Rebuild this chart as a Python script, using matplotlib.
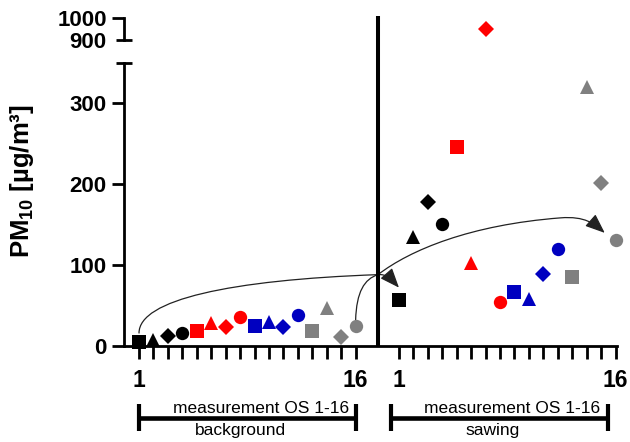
import matplotlib
matplotlib.use('Agg')
import matplotlib.pyplot as plt
import matplotlib.transforms as mtransforms
from matplotlib.path import Path
from matplotlib.patches import FancyArrowPatch
from matplotlib.lines import Line2D
import numpy as np

plt.rcParams['font.family'] = ['Liberation Sans', 'DejaVu Sans']
plt.rcParams['mathtext.fontset'] = 'custom'
plt.rcParams['mathtext.bf'] = 'Liberation Sans:bold'
plt.rcParams['mathtext.rm'] = 'Liberation Sans'

# ---------------- data ----------------
measurements = np.arange(1, 17)
background = [5, 8, 12, 16, 18, 28, 24, 36, 25, 29, 24, 38, 19, 47, 11, 25]
sawing = [57, 134, 177, 151, 246, 102, 950, 54, 67, 58, 89, 120, 85, 319, 201, 131]
colors = ['#000000'] * 4 + ['#FF0000'] * 4 + ['#0000C0'] * 4 + ['#808080'] * 4
markers = ['s', '^', 'D', 'o'] * 4
x_tick_labels = ['1', '16']
y_ticks_low = [0, 100, 200, 300]
y_ticks_high = [1000]
y_ticks_high_minor = [900]
group_labels = ['background', 'sawing']
bracket_label = 'measurement OS 1-16'
y_label = r'$\mathbf{PM_{10}}$ [µg/m³]'

# ---------------- layout ----------------
W, H = 630, 442
fig = plt.figure(figsize=(W / 100, H / 100), dpi=100)


def fx(px):
    return px / W


def fy(py):
    return 1 - py / H


offset = 18          # x offset of the second (sawing) block
sep_x = 17.55        # separator line position
xlim = (-0.04, 34.1)
ylim_low = (0, 349)
ylim_high = (900, 1000)

ax = fig.add_axes([fx(124), fy(346), fx(617) - fx(124), fy(63) - fy(346)])
axt = fig.add_axes([fx(124), fy(40), fx(617) - fx(124), fy(18) - fy(40)])

spine_lw = 2.0
for a in (ax, axt):
    a.set_xlim(*xlim)
    a.spines['top'].set_visible(False)
    a.spines['right'].set_visible(False)
    a.spines['left'].set_linewidth(spine_lw)
    a.spines['bottom'].set_linewidth(spine_lw)
    a.set_facecolor('none')
axt.spines['bottom'].set_visible(False)

ax.set_ylim(*ylim_low)
axt.set_ylim(*ylim_high)

tick_font = dict(fontsize=16, fontweight='bold')

# y ticks
ax.set_yticks(y_ticks_low)
ax.set_yticklabels([str(v) for v in y_ticks_low], **tick_font)
ax.set_yticks([ylim_low[1]], minor=True)
ax.set_yticklabels([''], minor=True)
ax.tick_params(axis='y', which='major', direction='out', length=9, width=spine_lw, pad=3.4)
ax.tick_params(axis='y', which='minor', direction='inout', length=11.5, width=spine_lw)

axt.set_yticks(y_ticks_high)
axt.set_yticklabels([str(v) for v in y_ticks_high], **tick_font)
axt.set_yticks(y_ticks_high_minor, minor=True)
axt.set_yticklabels([str(v) for v in y_ticks_high_minor], minor=True, **tick_font)
axt.tick_params(axis='y', which='major', direction='out', length=9, width=spine_lw, pad=3.4)
axt.tick_params(axis='y', which='minor', direction='inout', length=11.5, width=spine_lw, pad=7.1)
axt.set_xticks([])

# x ticks
xpos_bg = measurements
xpos_saw = measurements + offset
xt = list(xpos_bg) + list(xpos_saw)
xl = []
for block in range(2):
    for i, m in enumerate(measurements):
        if i == 0:
            xl.append(x_tick_labels[0])
        elif i == len(measurements) - 1:
            xl.append(x_tick_labels[1])
        else:
            xl.append('')
ax.set_xticks(xt)
ax.set_xticklabels(xl, fontsize=16.5, fontweight='bold')
ax.tick_params(axis='x', direction='out', length=9.4, width=spine_lw, pad=7.5)

# ---------------- points ----------------
ms_map = {'s': 9.5, '^': 9.8, 'D': 8.2, 'o': 9.6}
for i in range(len(measurements)):
    mk = markers[i]
    ax.plot(xpos_bg[i], background[i], marker=mk, color=colors[i], ms=ms_map[mk],
            mew=0, linestyle='none', clip_on=False, zorder=5)
    target = ax if sawing[i] <= ylim_low[1] else axt
    target.plot(xpos_saw[i], sawing[i], marker=mk, color=colors[i], ms=ms_map[mk],
                mew=0, linestyle='none', clip_on=False, zorder=5)

# ---------------- curved arrows ----------------
junction_y = 88
arrow_kw = dict(arrowstyle='-|>,head_length=0.55,head_width=0.22', mutation_scale=22,
                color='#222222', lw=0.9, zorder=4, clip_on=False)

# arrow: measurement 1 background -> measurement 1 sawing
xa0, ya0 = xpos_bg[0], background[0] + 11
xa1, ya1 = xpos_saw[0], sawing[0] + 15
verts_a = [(xa0, ya0), (xa0, 57), (7.3, 81.5), (sep_x, junction_y),
           (18.12, 89), (18.47, 82.7), (xa1, ya1)]
codes_a = [Path.MOVETO] + [Path.CURVE4] * 6
ax.add_patch(FancyArrowPatch(path=Path(verts_a, codes_a), **arrow_kw))

# arrow: measurement 16 background -> measurement 16 sawing
xb0, yb0 = xpos_bg[-1], background[-1] + 7
xb1, yb1 = xpos_saw[-1] - 0.75, sawing[-1] + 8.5
verts_b = [(xb0, yb0), (xb0 + 0.06, 66.7), (16.6, 82.7), (sep_x, junction_y),
           (19.78, 118.5), (23.94, 149.4), (30.18, 158),
           (31.9, 160.5), (32.55, 150.5), (xb1, yb1)]
codes_b = [Path.MOVETO] + [Path.CURVE4] * 9
ax.add_patch(FancyArrowPatch(path=Path(verts_b, codes_b), **arrow_kw))

# ---------------- separator line ----------------
blend = mtransforms.blended_transform_factory(ax.transData, fig.transFigure)
fig.add_artist(Line2D([sep_x, sep_x], [fy(347), fy(16)], transform=blend,
                      color='black', lw=2.9, solid_capstyle='butt', zorder=10))

# ---------------- brackets ----------------
bar_y, cap_top, cap_bot = fy(418), fy(404), fy(431)
brackets = [(xpos_bg[0], xpos_bg[-1]), (xpos_saw[0] - 0.55, xpos_saw[-1] - 0.55)]
px_per_unit = (ax.transData.transform((1, 0))[0] - ax.transData.transform((0, 0))[0])
for (x0, x1), glabel in zip(brackets, group_labels):
    fig.add_artist(Line2D([x0, x1], [bar_y, bar_y], transform=blend, color='black',
                          lw=3.3, solid_capstyle='butt'))
    for xc in (x0, x1):
        fig.add_artist(Line2D([xc, xc], [cap_top, cap_bot], transform=blend,
                              color='black', lw=3.0, solid_capstyle='butt'))
    fig.text(x1 - 7 / px_per_unit, fy(413), bracket_label, transform=blend,
             ha='right', va='baseline', fontsize=12.5)
    fig.text((x0 + x1) / 2 - 7 / px_per_unit, fy(435), glabel, transform=blend,
             ha='center', va='baseline', fontsize=12.5)

# ---------------- y label ----------------
fig.text(fx(22), fy(181), y_label, rotation=90, ha='center', va='center',
         fontsize=18.5, fontweight='bold')

fig.savefig('out.png', dpi=100)
